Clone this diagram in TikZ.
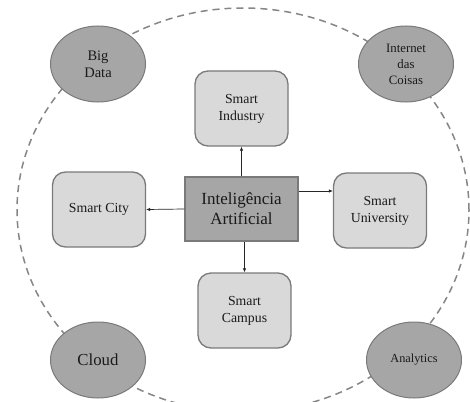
\documentclass[tikz,border=0pt]{standalone}
\usepackage{fontspec}
\setmainfont{Liberation Serif}
\usetikzlibrary{shapes.geometric,arrows.meta}
\definecolor{boxfill}{HTML}{D9D9D9}
\definecolor{darkfill}{HTML}{A6A6A6}
\definecolor{edgegray}{HTML}{7A7A7A}
\definecolor{ringgray}{HTML}{868686}
\definecolor{txt}{HTML}{1A1A1A}
\tikzset{
  smartbox/.style={draw=edgegray, line width=1.3pt, fill=boxfill, rounded corners=13pt,
    minimum width=93pt, minimum height=75pt, align=center, text=txt,
    font=\fontsize{13.8}{17}\selectfont, inner sep=2pt},
  corebox/.style={draw=edgegray, line width=1.3pt, fill=darkfill,
    minimum width=113pt, minimum height=64pt, align=center, text=txt,
    font=\fontsize{17}{20}\selectfont, inner sep=2pt},
  techell/.style={ellipse, draw=edgegray, line width=1pt, fill=darkfill,
    minimum width=95pt, minimum height=76pt, align=center, text=txt, inner sep=0pt},
  link/.style={-{Latex[length=4pt,width=3.5pt]}, line width=0.7pt, black!85},
  ring/.style={dash pattern=on 7pt off 5pt, draw=ringgray, line width=1.5pt}
}
\begin{document}
\begin{tikzpicture}[x=1pt,y=-1pt]
\useasboundingbox (0,0) rectangle (470,401);
\clip (0,0) rectangle (470,401);
\fill[white] (0,0) rectangle (470,401);
% outer dashed ring
\draw[ring] (243,210) ellipse [x radius=226pt, y radius=202pt];
% technologies
\node[techell, font=\fontsize{14.5}{17}\selectfont] (bigdata) at (98,64) {Big\\Data};
\node[techell, font=\fontsize{12.8}{16}\selectfont] (iot) at (406,64) {Internet\\das\\Coisas};
\node[techell, font=\fontsize{16.8}{19}\selectfont] (cloud) at (98,360) {Cloud};
\node[techell, font=\fontsize{12.3}{15}\selectfont] (analytics) at (414,360) {Analytics};
% core and smart boxes
\node[corebox] (ia) at (241.5,209) {Inteligência\\Artificial};
\node[smartbox] (industry) at (241.5,108.5) {Smart\\Industry};
\node[smartbox] (city) at (99,209.5) {Smart City};
\node[smartbox] (university) at (380,210.5) {Smart\\University};
\node[smartbox] (campus) at (244.5,310.5) {Smart\\Campus};
% connectors
\draw[link] (ia.north) -- (industry.south);
\draw[link] (ia.west) -- (city.east);
\draw[link] (ia.east |- 0,191) coordinate (iaE) -- (university.west |- iaE);
\draw[link] (ia.south -| campus.north) -- (campus.north);
\end{tikzpicture}
\end{document}
